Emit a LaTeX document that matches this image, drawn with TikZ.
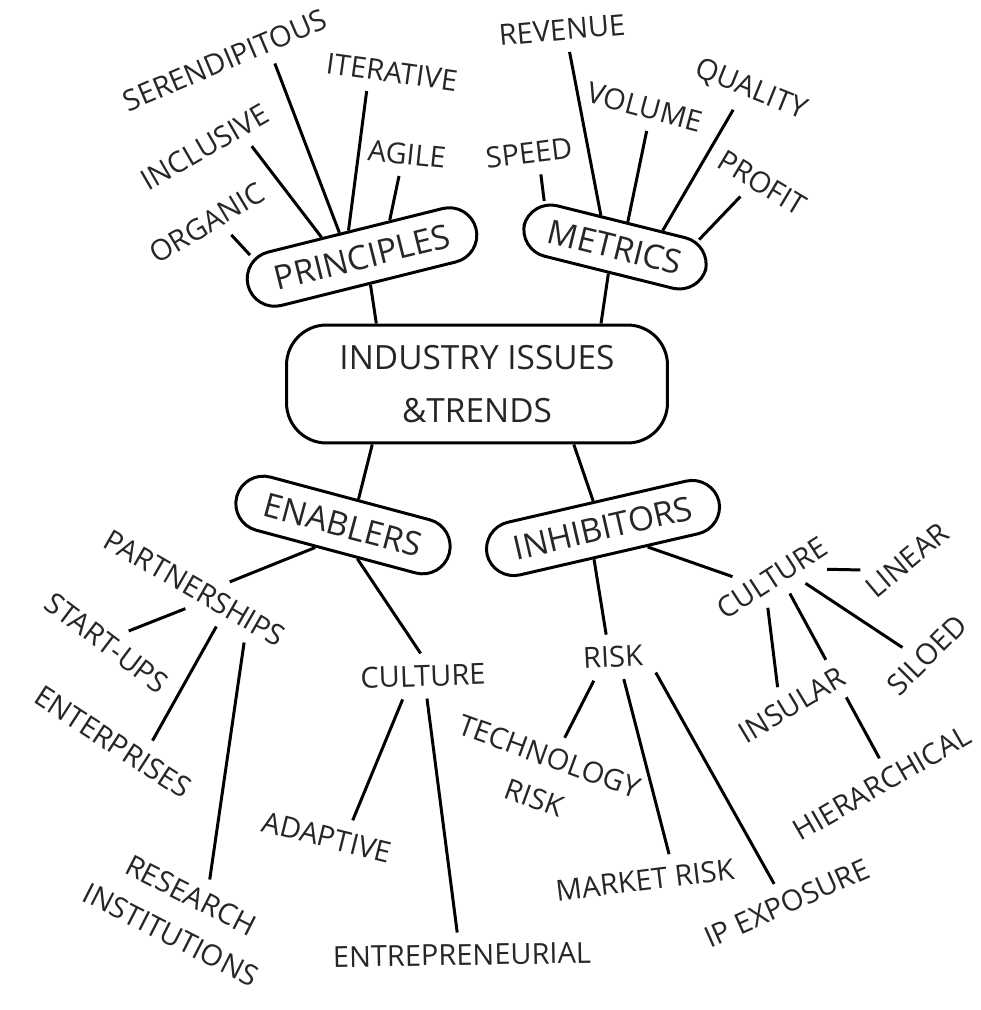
\documentclass[tikz,border=0pt]{standalone}
\usepackage{fontspec}
\setmainfont{Open Sans}

\begin{document}
\begin{tikzpicture}[x=0.02cm, y=-0.02cm, line width=1.7pt,
    hub/.style={draw, rounded corners=0.55cm, minimum height=1.1cm, inner sep=2pt,
        font=\fontsize{19}{30}\selectfont, text=black!85},
    leaf/.style={inner sep=6pt, align=center, font=\fontsize{16.5}{25}\selectfont, text=black!85}]
    \useasboundingbox (0,0) rectangle (980,1010);

    \node[hub, minimum width=7.62cm, minimum height=2.36cm, rounded corners=0.8cm, align=center] (issues) at (477,384) {INDUSTRY ISSUES\\\&TRENDS};
    \node[hub, minimum width=4.7cm, rotate=14] (principles) at (362,257) {PRINCIPLES};
    \node[hub, minimum width=3.74cm, minimum height=1.04cm, rotate=-14] (metrics) at (615,247) {METRICS};
    \node[hub, minimum width=4.4cm, rotate=-15] (enablers) at (343,525) {ENABLERS};
    \node[hub, minimum width=4.76cm, minimum height=1.08cm, rotate=13] (inhibitors) at (603,528) {INHIBITORS};

    % principles
    \node[leaf, rotate=31] (organic) at (207,223) {ORGANIC};
    \node[leaf, rotate=30] (inclusive) at (205,147) {INCLUSIVE};
    \node[leaf, rotate=23] (serendip) at (225,60) {SERENDIPITOUS};
    \node[leaf, rotate=-8] (iterative) at (392,72) {ITERATIVE};
    \node[leaf, rotate=-6] (agile) at (407,154) {AGILE};
    % metrics
    \node[leaf, rotate=5] (revenue) at (562,30) {REVENUE};
    \node[leaf, rotate=7] (speed) at (529,153) {SPEED};
    \node[leaf, rotate=-15] (volume) at (645,107) {VOLUME};
    \node[leaf, rotate=-22] (quality) at (751,90) {QUALITY};
    \node[leaf, rotate=-31] (profit) at (762,183) {PROFIT};
    % enablers
    \node[leaf, rotate=-30] (partner) at (195,588) {PARTNERSHIPS};
    \node[leaf, rotate=-37] (startups) at (107,643) {START-UPS};
    \node[leaf, rotate=-33] (enterprises) at (113,742) {ENTERPRISES};
    \node[leaf, rotate=-27] (research) at (181,915) {RESEARCH\\INSTITUTIONS};
    \node[leaf, rotate=2] (cultureE) at (423,676) {CULTURE};
    \node[leaf, rotate=-14] (adaptive) at (327,837) {ADAPTIVE};
    \node[leaf, rotate=1] (entrepren) at (462,955) {ENTREPRENEURIAL};
    % inhibitors
    \node[leaf, rotate=3] (risk) at (613,657) {RISK};
    \node[leaf, rotate=-20] (techrisk) at (542,777) {TECHNOLOGY\\RISK};
    \node[leaf, rotate=7] (marketrisk) at (645,880) {MARKET RISK};
    \node[leaf, rotate=24] (ipexp) at (787,903) {IP EXPOSURE};
    \node[leaf, rotate=33] (cultureI) at (772,578) {CULTURE};
    \node[leaf, rotate=40] (linear) at (907,560) {LINEAR};
    \node[leaf, rotate=45] (siloed) at (927,655) {SILOED};
    \node[leaf, rotate=30] (hierarch) at (882,783) {HIERARCHICAL};

    % this line runs under INSULAR, so it comes before that node
    \draw (cultureI.-74) -- (hierarch.66);
    \node[leaf, rotate=31, fill=white] (insular) at (792,705) {INSULAR};

    \draw (issues.149) edge (principles.-87)
          (issues.26) edge (metrics.-90)
          (issues.-150) edge (enablers.74)
          (issues.-32) edge (inhibitors.97);

    \draw (principles.165) edge (organic.-57)
          (principles.140) edge (inclusive.-29)
          (principles.119) edge (serendip.-27)
          (principles.103) edge (iterative.-135)
          (principles.39) edge (agile.-104);

    \draw (metrics.161) edge (speed.-68)
          (metrics.128) edge (revenue.-76)
          (metrics.77) edge (volume.-71)
          (metrics.33) edge (quality.-110)
          (metrics.19) edge (profit.-117);

    \draw (enablers.-126) edge (partner.40)
          (enablers.-52) edge (cultureE.94);
    \draw (partner.-85) edge (startups.66)
          (partner.-31) edge (enterprises.35)
          (partner.-18) edge (research.78);
    \draw (cultureE.-133) edge (adaptive.47)
          (cultureE.-82) edge (entrepren.101);

    \draw (inhibitors.-119) edge (risk.104)
          (inhibitors.-36) edge (cultureI.145);
    \draw (risk.-132) edge (techrisk.80)
          (risk.-67) edge (marketrisk.40)
          (risk.-23) edge (ipexp.100);
    \draw (cultureI.-24) edge (linear.152)
          (cultureI.-42) edge (siloed.118)
          (cultureI.-131) edge (insular.98);
\end{tikzpicture}
\end{document}
